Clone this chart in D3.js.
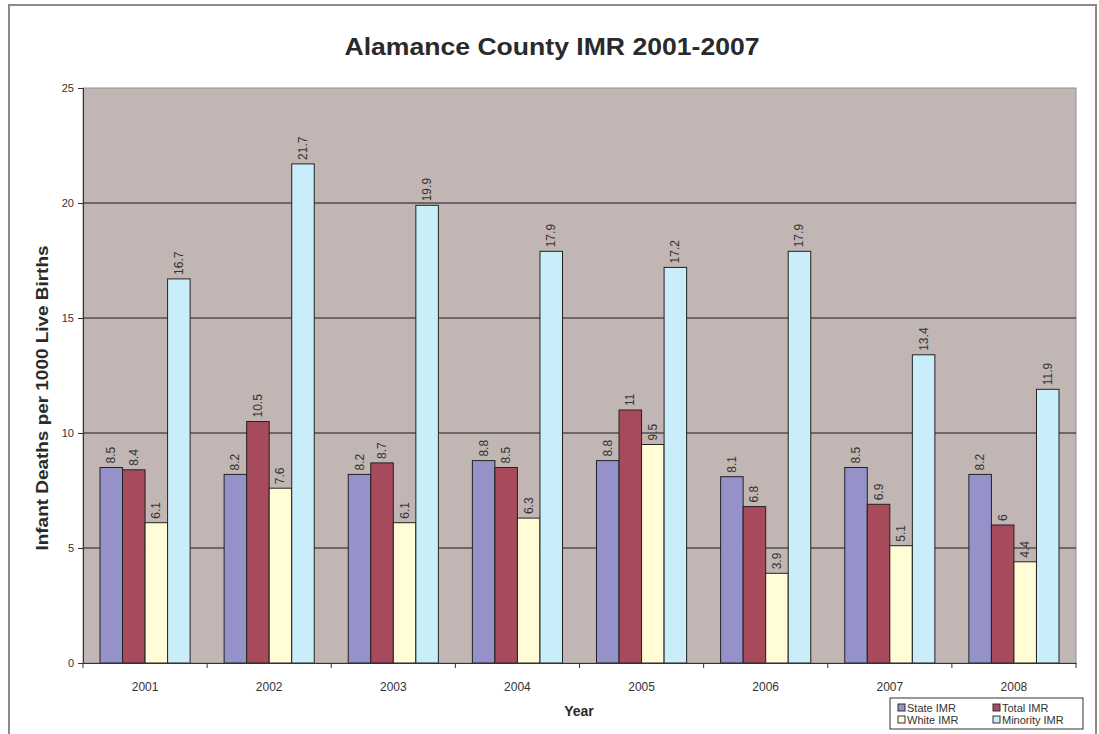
<!doctype html>
<html lang="en">
<head>
<meta charset="utf-8">
<script src="https://d3js.org/d3.v7.min.js"></script>
<style>
  body { margin: 0; background: #fff; }
  svg text { font-family: "Liberation Sans", Arial, sans-serif; }
</style>
</head>
<body>
<svg width="1099" height="734"></svg>
<script>
  const years = ["2001", "2002", "2003", "2004", "2005", "2006", "2007", "2008"];
  const seriesNames = ["State IMR", "Total IMR", "White IMR", "Minority IMR"];
  const stateIMR = [8.5, 8.2, 8.2, 8.8, 8.8, 8.1, 8.5, 8.2];
  const totalIMR = [8.4, 10.5, 8.7, 8.5, 11, 6.8, 6.9, 6];
  const whiteIMR = [6.1, 7.6, 6.1, 6.3, 9.5, 3.9, 5.1, 4.4];
  const minorityIMR = [16.7, 21.7, 19.9, 17.9, 17.2, 17.9, 13.4, 11.9];
  const yTicks = [0, 5, 10, 15, 20, 25];

  const seriesValues = [stateIMR, totalIMR, whiteIMR, minorityIMR];
  const colors = ["#9591c9", "#a64a5c", "#fffcd6", "#c9eefa"];

  const svg = d3.select("svg");

  // outer frame
  svg.append("rect")
    .attr("x", 9).attr("y", 5)
    .attr("width", 1087).attr("height", 740)
    .attr("fill", "none")
    .attr("stroke", "#8a8a8a")
    .attr("stroke-width", 2);

  const margin = { top: 88, left: 83 };
  const width = 993, height = 575;

  const g = svg.append("g")
    .attr("transform", `translate(${margin.left},${margin.top})`);

  const x0 = d3.scaleBand().domain(years).range([0, width]).padding(0);
  const x1 = d3.scaleBand().domain(seriesNames)
    .range([17, x0.bandwidth() - 17]).padding(0);
  const y = d3.scaleLinear().domain([0, 25]).range([height, 0]);

  // plot background
  g.append("rect")
    .attr("width", width).attr("height", height)
    .attr("fill", "#c1b6b3")
    .attr("stroke", "#8f8f8f");

  // gridlines
  g.selectAll(".grid")
    .data(yTicks.filter(d => d > 0 && d < 25))
    .join("line")
    .attr("x1", 0).attr("x2", width)
    .attr("y1", d => y(d)).attr("y2", d => y(d))
    .attr("stroke", "#1a1a1a")
    .attr("stroke-width", 1);

  // bars
  const data = years.map((yr, i) => ({
    year: yr,
    values: seriesNames.map((s, j) => ({ key: s, idx: j, value: seriesValues[j][i] }))
  }));

  const groups = g.selectAll(".grp")
    .data(data)
    .join("g")
    .attr("transform", d => `translate(${x0(d.year)},0)`);

  groups.selectAll("rect")
    .data(d => d.values)
    .join("rect")
    .attr("x", d => x1(d.key))
    .attr("y", d => y(d.value))
    .attr("width", x1.bandwidth())
    .attr("height", d => height - y(d.value))
    .attr("fill", d => colors[d.idx])
    .attr("stroke", "#222")
    .attr("stroke-width", 1);

  groups.selectAll("text")
    .data(d => d.values)
    .join("text")
    .attr("transform", d => `translate(${x1(d.key) + x1.bandwidth() / 2 + 4},${y(d.value) - 4}) rotate(-90)`)
    .attr("font-size", 12)
    .attr("fill", "#333")
    .text(d => d.value);

  // y axis
  const yAxis = g.append("g")
    .call(d3.axisLeft(y).tickValues(yTicks).tickSize(5).tickPadding(4));
  yAxis.select(".domain").attr("stroke", "#333");
  yAxis.selectAll(".tick line").attr("stroke", "#333");
  yAxis.selectAll("text").attr("font-size", 11).attr("fill", "#333");

  // x axis
  const xAxis = g.append("g")
    .attr("transform", `translate(0,${height})`)
    .call(d3.axisBottom(x0).tickSize(0).tickPadding(19));
  xAxis.select(".domain").attr("stroke", "#333");
  xAxis.selectAll("text").attr("font-size", 12).attr("fill", "#333");
  xAxis.selectAll(".sep")
    .data(d3.range(years.length + 1))
    .join("line")
    .attr("x1", i => i * x0.bandwidth()).attr("x2", i => i * x0.bandwidth())
    .attr("y1", 0).attr("y2", 5)
    .attr("stroke", "#333");

  // titles
  svg.append("text")
    .attr("x", 552).attr("y", 55)
    .attr("text-anchor", "middle")
    .attr("font-size", 24)
    .attr("font-weight", "bold")
    .attr("fill", "#2a2a2a")
    .attr("textLength", 415)
    .attr("lengthAdjust", "spacingAndGlyphs")
    .text("Alamance County IMR 2001-2007");

  svg.append("text")
    .attr("transform", "translate(48,398) rotate(-90)")
    .attr("text-anchor", "middle")
    .attr("font-size", 16)
    .attr("font-weight", "bold")
    .attr("fill", "#2a2a2a")
    .attr("textLength", 305)
    .attr("lengthAdjust", "spacingAndGlyphs")
    .text("Infant Deaths per 1000 Live Births");

  svg.append("text")
    .attr("x", 579).attr("y", 716)
    .attr("text-anchor", "middle")
    .attr("font-size", 14)
    .attr("font-weight", "bold")
    .attr("fill", "#2a2a2a")
    .text("Year");

  // legend
  const legend = svg.append("g").attr("transform", "translate(890,698)");
  legend.append("rect")
    .attr("width", 193).attr("height", 31)
    .attr("fill", "#fff")
    .attr("stroke", "#333");
  const items = legend.selectAll(".item")
    .data(seriesNames)
    .join("g")
    .attr("transform", (d, i) => `translate(${8 + (i % 2) * 95},${6 + Math.floor(i / 2) * 12})`);
  items.append("rect")
    .attr("width", 7).attr("height", 7)
    .attr("fill", (d, i) => colors[i])
    .attr("stroke", "#333");
  items.append("text")
    .attr("x", 9).attr("y", 7.5)
    .attr("font-size", 11)
    .attr("fill", "#333")
    .text(d => d);
</script>
</body>
</html>
